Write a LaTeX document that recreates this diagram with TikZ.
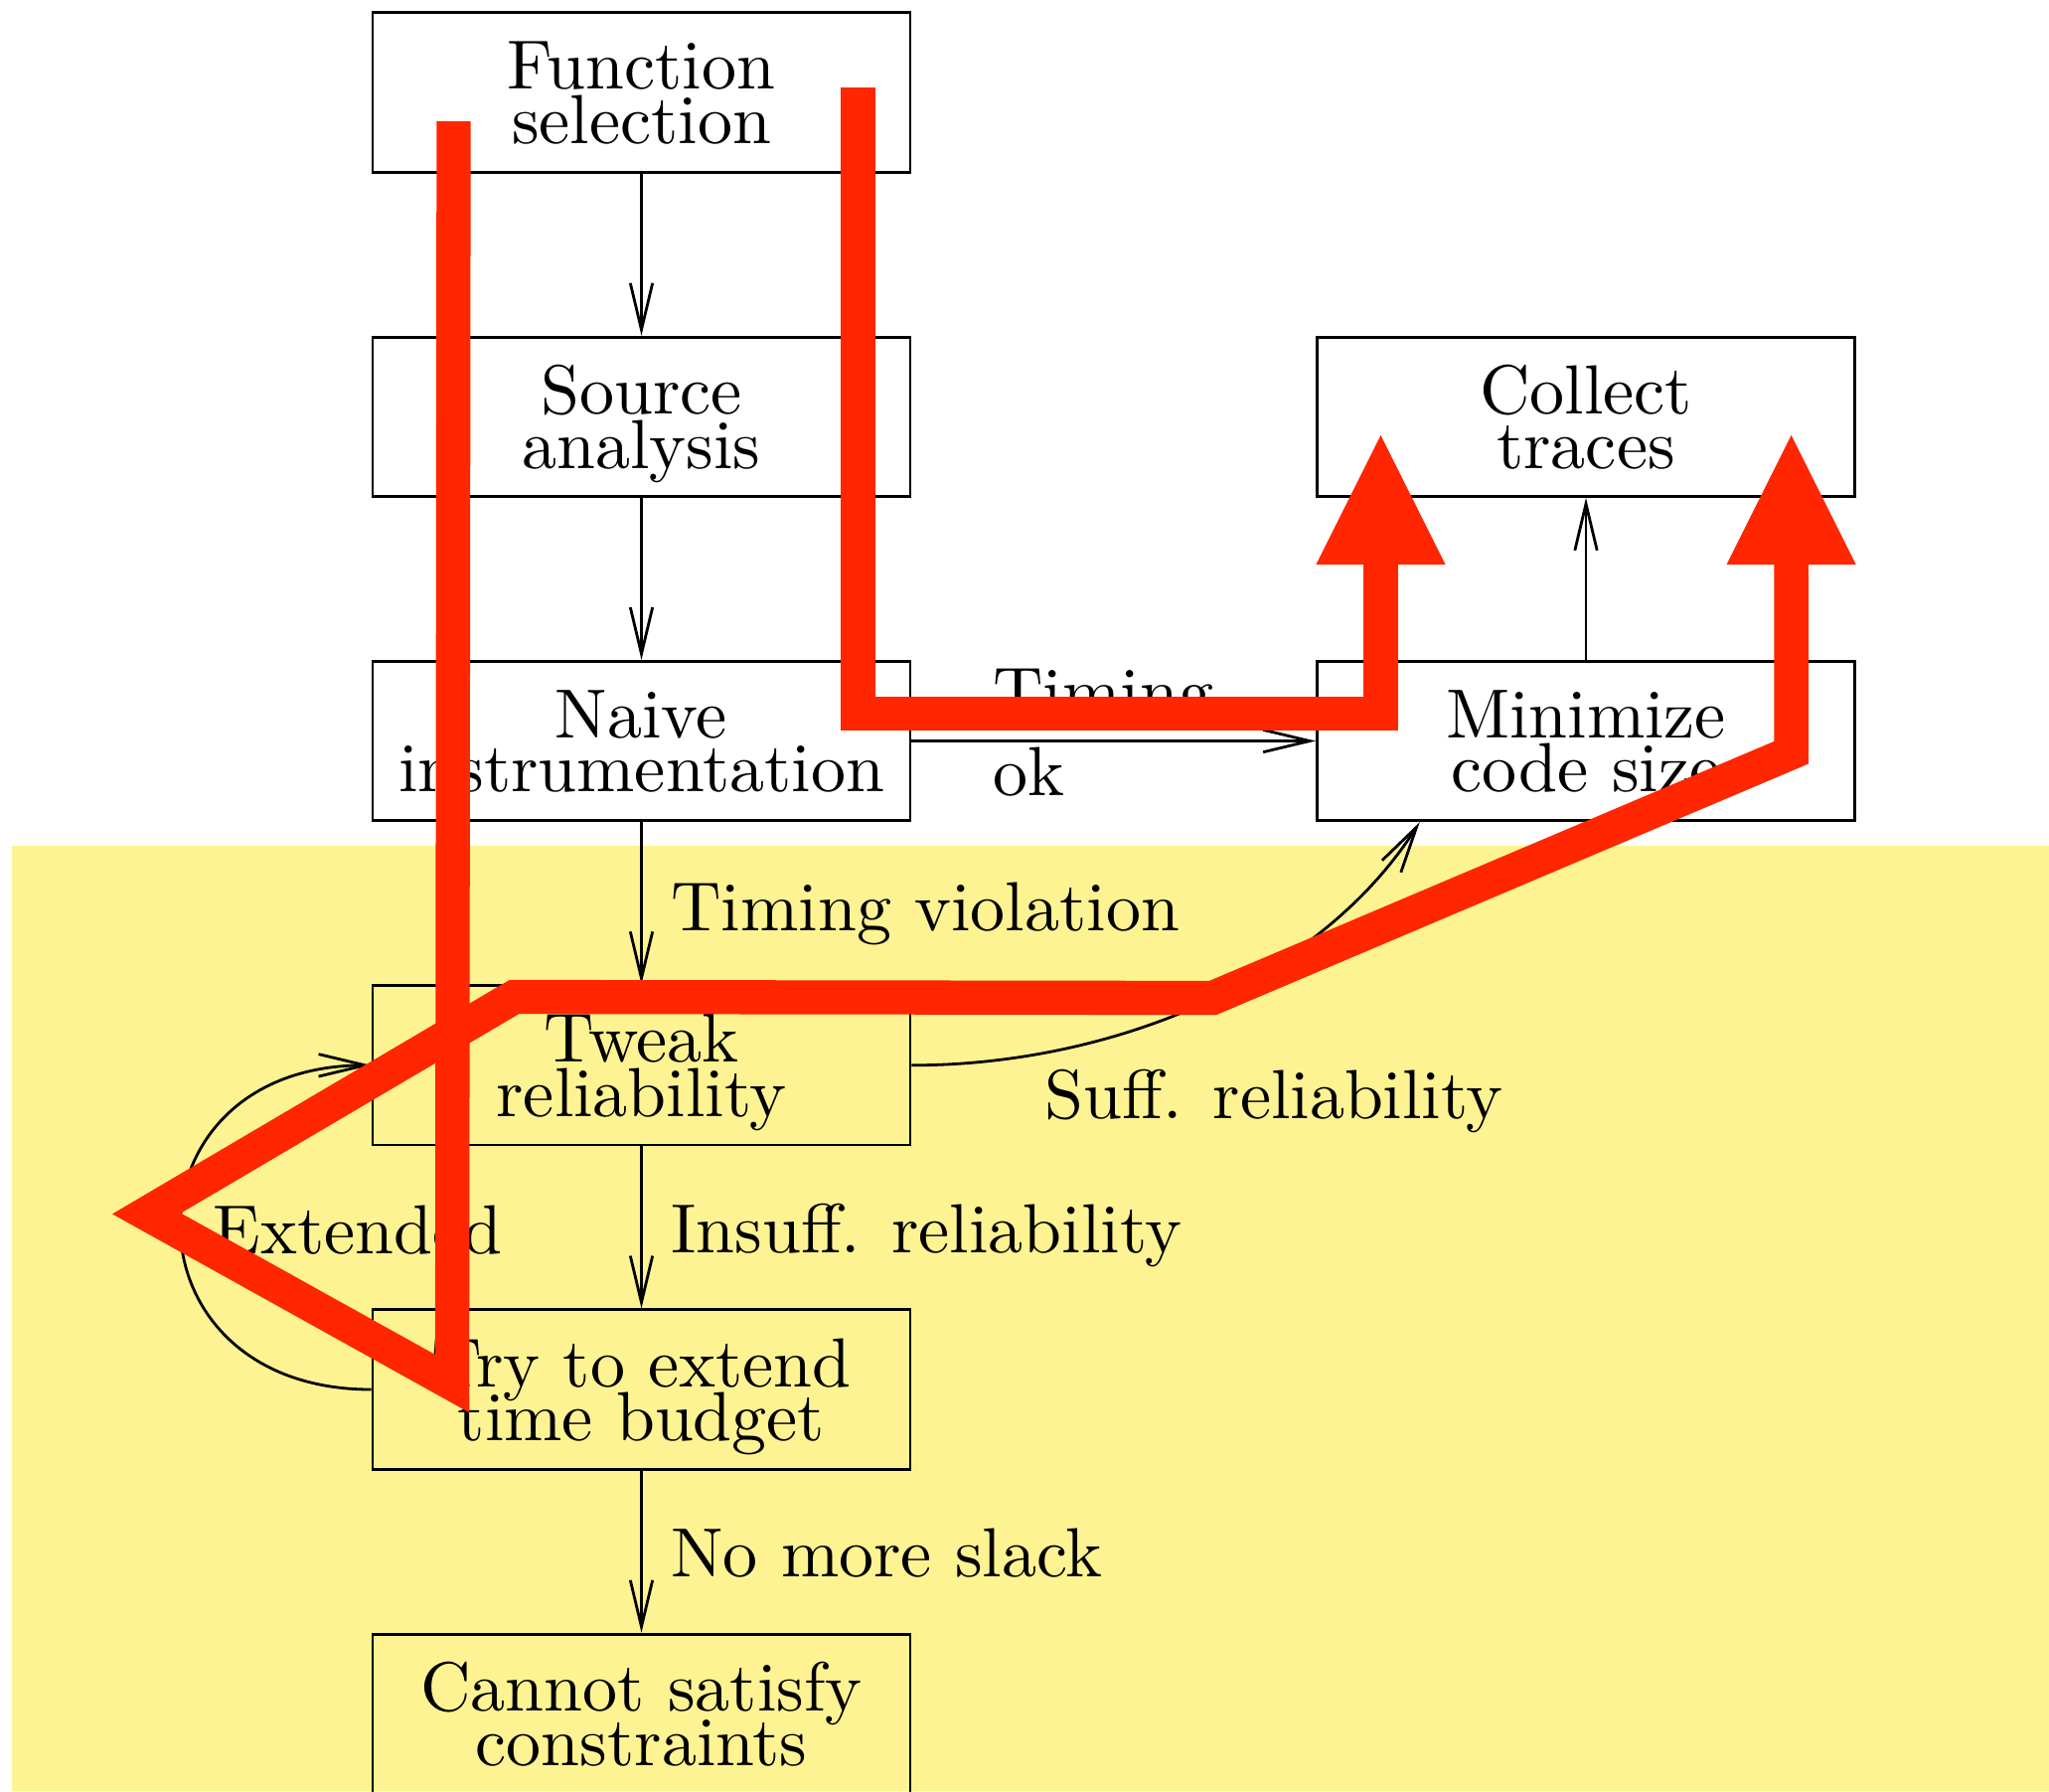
\documentclass[tikz,border=0pt]{standalone}
\usetikzlibrary{arrows.meta}
\definecolor{bandyellow}{RGB}{254,243,146}
\definecolor{markred}{RGB}{255,38,0}
\tikzset{
  stepbox/.style={draw, line width=0.4pt, minimum width=77.3pt, minimum height=22.9pt,
    inner sep=0pt, align=center, text depth=0pt,
    font={\fontsize{10}{7.8}\selectfont\lineskiplimit=-100pt}},
  flow/.style={line width=0.4pt, -{Straight Barb[length=6.7pt,width=3.2pt]}},
  edgelabel/.style={inner sep=0pt, anchor=base west, font=\fontsize{10}{12}\selectfont},
  marker/.style={draw=markred, line width=4.9pt, line join=miter,
    -{Triangle[length=18.6pt,width=18.6pt,line width=0pt]}}
}
\begin{document}
\begin{tikzpicture}[x=0.142857pt, y=-0.142857pt]
  \useasboundingbox (0,0) rectangle (2062,1802);
  % shaded lower band
  \fill[bandyellow] (12,850.7) rectangle (2062,1802);

  % process steps
  \node[stepbox] (fs) at (645.5,93)     {Function\\selection};
  \node[stepbox] (sa) at (645.5,419.3)  {Source\\analysis};
  \node[stepbox] (ni) at (645.5,745.5)  {Naive\\instrumentation};
  \node[stepbox] (tr) at (645.5,1071.8) {Tweak\\reliability};
  \node[stepbox] (te) at (645.5,1398)   {Try to extend\\time budget};
  \node[stepbox] (cs) at (645.5,1724.3) {Cannot satisfy\\constraints};
  \node[stepbox] (ct) at (1596,419.3)   {Collect\\traces};
  \node[stepbox] (mc) at (1596,745.5)   {Minimize\\code size};

  % transitions
  \draw[flow] (fs) -- (sa);
  \draw[flow] (sa) -- (ni);
  \draw[flow] (ni) -- (mc);
  \draw[flow] (ni) -- (tr);
  \draw[flow] (tr) -- (te);
  \draw[flow] (te) -- (cs);
  \draw[flow] (mc) -- (ct);
  \draw[flow] (tr.east) .. controls +(200,0) and +(-102,160) .. (mc.206);
  \draw[flow] (te.west) .. controls +(-255,0) and +(-255,0) .. (tr.west);

  % transition labels
  \node[inner sep=0pt, anchor=north west, align=left,
        font={\fontsize{10}{11.4}\selectfont}] (lok) at (998,671.7) {Timing\\ok};
  \node[edgelabel] (ltv) at (674,936)    {Timing violation};
  \node[edgelabel] (lir) at (674,1260.4) {Insuff. reliability};
  \node[edgelabel] (lns) at (674,1586)   {No more slack};
  \node[edgelabel] (lsr) at (1050,1125.5) {Suff. reliability};
  \node[edgelabel] (lex) at (213,1261)   {Extended};

  % red strokes on top
  \draw[marker] (456.5,122) -- (455,1392) -- (147.5,1221) -- (517.5,1003)
    -- (1220.5,1004) -- (1802.6,757.2) -- (1802.6,437.8);
  \draw[marker] (863.5,88) -- (863.5,718) -- (1389.5,718) -- (1389.5,437.8);
\end{tikzpicture}
\end{document}
